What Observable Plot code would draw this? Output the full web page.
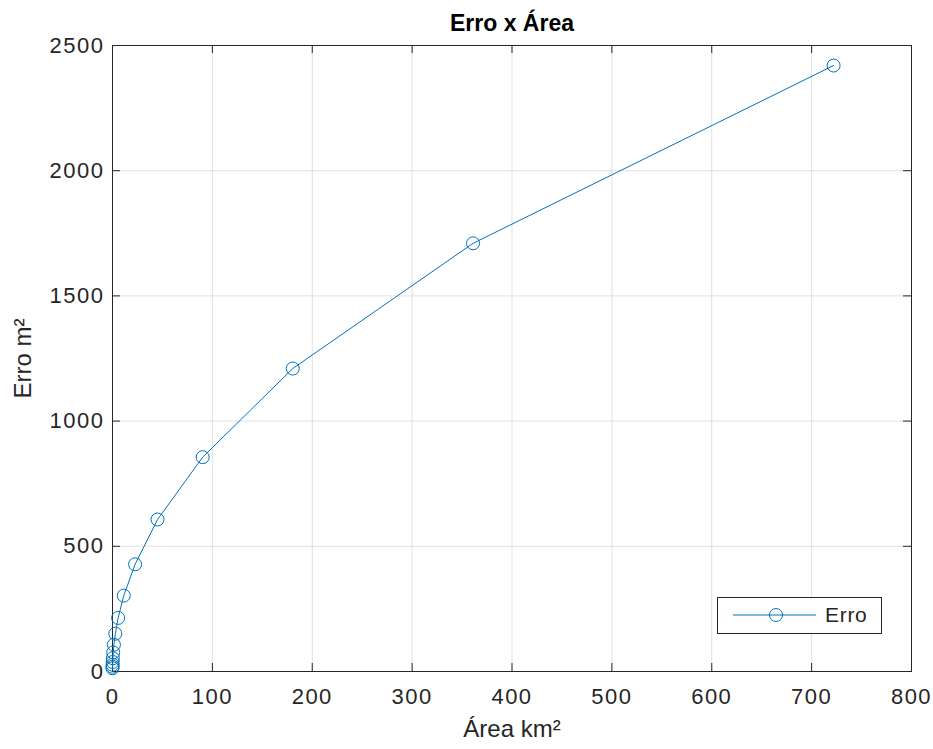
<!DOCTYPE html>
<html><head><meta charset="utf-8">
<script src="https://cdn.jsdelivr.net/npm/d3@7"></script>
<script src="https://cdn.jsdelivr.net/npm/@observablehq/plot@0.6"></script>
<style>
body{margin:0;background:#fff;font-family:"Liberation Sans",Arial,sans-serif}
#wrap{position:relative;width:933px;height:749px}
#legend{position:absolute;left:717px;top:597px;width:165px;height:37px;border:1px solid #262626;background:#fff;box-sizing:border-box}
#legend span{position:absolute;left:107px;top:5px;font-size:21px;letter-spacing:0.7px;color:#262626}
#legend svg{position:absolute;left:0;top:0}
g[aria-label="x-axis tick label"] text, g[aria-label="y-axis tick label"] text{letter-spacing:1.5px}
g[aria-label="title"] text{letter-spacing:2px}
g[aria-label="xlabel"] text, g[aria-label="ylabel"] text{letter-spacing:2px}
</style></head><body><div id="wrap"><div id="legend"></div></div>
<script>
const areas = [722, 361, 180.5, 90.3, 45.1, 22.6, 11.3, 5.64, 2.82, 1.41, 0.71, 0.35, 0.18, 0.09, 0.04, 0.02];
const errors = [2420, 1710, 1210, 856, 607, 428, 303, 214, 151, 107, 76, 53, 38, 27, 19, 13];
const xTicks = [0, 100, 200, 300, 400, 500, 600, 700, 800];
const yTicks = [0, 500, 1000, 1500, 2000, 2500];
const seriesName = "Erro";
const title = "Erro x Área";
const xLabel = "Área km²";
const yLabel = "Erro m²";

const data = areas.map((a, i) => ({area: a, erro: errors[i]}));
const W = 933, H = 749, mL = 112, mR = 22, mT = 45, mB = 78;
const iW = W - mL - mR, iH = H - mT - mB;
const blue = "#0072BD", ink = "#262626";

const chart = Plot.plot({
  width: W, height: H,
  marginLeft: mL, marginRight: mR, marginTop: mT, marginBottom: mB,
  style: {fontFamily: '"Liberation Sans", Arial, sans-serif', background: "#fff", color: ink},
  x: {domain: [0, 800], axis: null},
  y: {domain: [0, 2500], axis: null},
  marks: [
    Plot.gridX(xTicks, {stroke: "#000", strokeOpacity: 0.12}),
    Plot.gridY(yTicks, {stroke: "#000", strokeOpacity: 0.12}),
    Plot.axisX(xTicks, {tickSize: 0, tickPadding: 17, fontSize: 22, label: null, fill: ink, tickFormat: d => String(d)}),
    Plot.axisY(yTicks, {tickSize: 0, tickPadding: 8, fontSize: 22, label: null, fill: ink, tickFormat: d => String(d)}),
    Plot.tickX(xTicks, {x: d => d, insetTop: iH - 8, stroke: ink}),
    Plot.tickX(xTicks, {x: d => d, insetBottom: iH - 8, stroke: ink}),
    Plot.tickY(yTicks, {y: d => d, insetRight: iW - 8, stroke: ink}),
    Plot.tickY(yTicks, {y: d => d, insetLeft: iW - 8, stroke: ink}),
    Plot.frame({stroke: ink}),
    Plot.line(data, {x: "area", y: "erro", stroke: blue, strokeWidth: 1}),
    Plot.dot(data, {x: "area", y: "erro", r: 6.5, stroke: blue, fill: "none", strokeWidth: 1}),
    Plot.text([title], {frameAnchor: "top", dy: -22, lineAnchor: "middle", textAnchor: "middle", fontSize: 23, fontWeight: "bold", fill: "#000", ariaLabel: "title"}),
    Plot.text([xLabel], {frameAnchor: "bottom", dy: 58, lineAnchor: "middle", textAnchor: "middle", fontSize: 24, fill: ink, ariaLabel: "xlabel"}),
    Plot.text([yLabel], {frameAnchor: "left", dx: -89, rotate: -90, lineAnchor: "middle", textAnchor: "middle", fontSize: 24, fill: ink, ariaLabel: "ylabel"})
  ]
});
document.getElementById("wrap").prepend(chart);

const leg = document.getElementById("legend");
leg.innerHTML = `<svg width="100" height="35"><line x1="15" x2="98" y1="17" y2="17" stroke="${blue}" stroke-width="1"/><circle cx="58" cy="17" r="6.5" fill="none" stroke="${blue}" stroke-width="1"/></svg><span>${seriesName}</span>`;
</script></body></html>
